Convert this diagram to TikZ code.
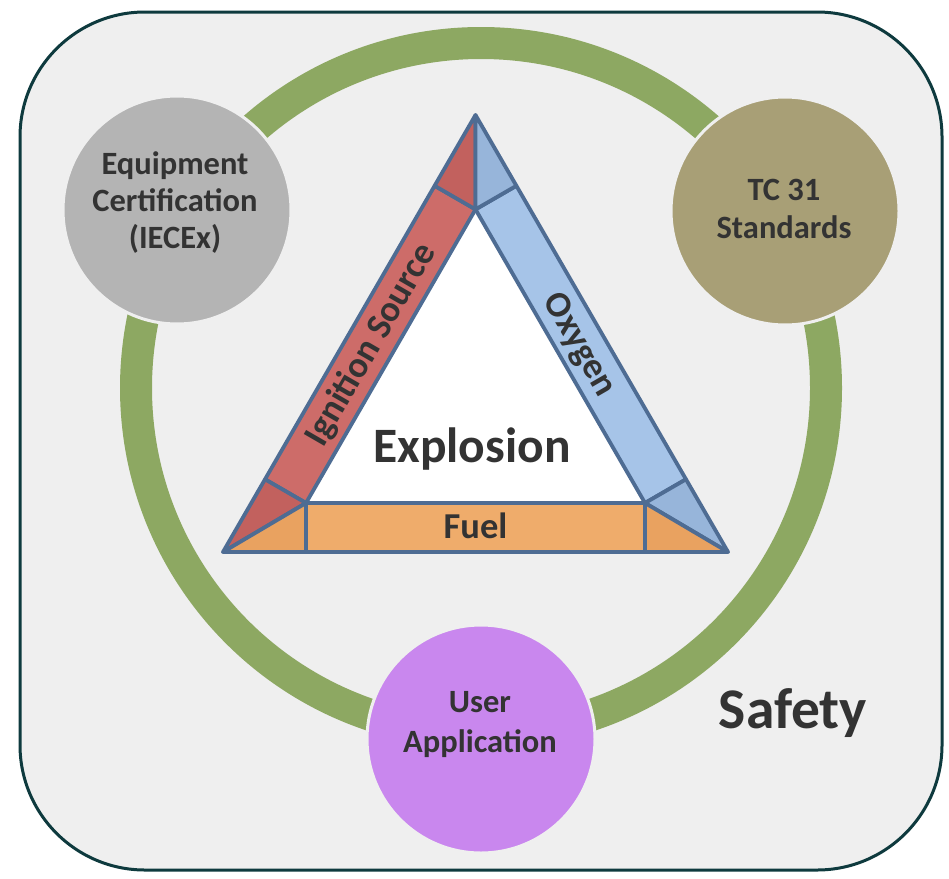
\documentclass[tikz,border=0pt]{standalone}
\usepackage{fontspec}
\setmainfont{Carlito}
\usetikzlibrary{calc}

\definecolor{panelbg}{HTML}{EFEFEF}
\definecolor{panelrim}{HTML}{0E3A3E}
\definecolor{ringgreen}{HTML}{8DA862}
\definecolor{equipgray}{HTML}{B4B4B4}
\definecolor{tckhaki}{HTML}{A89F76}
\definecolor{userpurple}{HTML}{C987EE}
\definecolor{ink}{HTML}{333333}
\definecolor{edgeblue}{HTML}{4E6C93}
\definecolor{redband}{HTML}{CD6C69}
\definecolor{redcorner}{HTML}{C2615E}
\definecolor{blueband}{HTML}{A6C4E8}
\definecolor{bluecorner}{HTML}{97B5DA}
\definecolor{orangeband}{HTML}{EFAC6B}
\definecolor{orangecorner}{HTML}{E9A260}

\tikzset{
  panel/.style={fill=panelbg, draw=panelrim, line width=3pt, rounded corners=125pt},
  ringline/.style={draw=ringgreen, line width=32pt},
  disc/.style={circle, minimum size=228pt, inner sep=0pt, draw=panelbg, line width=3pt},
  piece/.style={draw=edgeblue, line width=3.8pt, line join=round},
  disctext/.style={anchor=base, inner sep=0pt, text=ink, font=\fontsize{32.5}{38}\selectfont\bfseries},
  bandlabel/.style={anchor=center, inner sep=0pt, text=ink, text height=22pt, text depth=0pt,
                    font=\fontsize{36.5}{40}\selectfont\bfseries},
  bigtext/.style={anchor=base, inner sep=0pt, text=ink},
}

\begin{document}
\begin{tikzpicture}[x=1pt,y=-1pt]
\useasboundingbox (0,0) rectangle (949,878);
\fill[white] (0,0) rectangle (949,878);

% rounded panel
\draw[panel] (20,12) rectangle (942,870);

% green ring linking the three discs
\coordinate (hub) at (481,388);
\draw[ringline] (hub) circle[radius=345pt];

% discs on the ring
\node[disc, fill=equipgray]  (equip) at (177,210) {};
\node[disc, fill=tckhaki]    (tc)    at (785,211) {};
\node[disc, fill=userpurple] (user)  at (481,739) {};

\node[disctext] (eq1) at (175,174) {Equipment};
\node[disctext] (eq2) at (175,211) {Certification};
\node[disctext] (eq3) at (175,248) {(IECEx)};
\node[disctext] (tc1) at (784,200) {TC 31};
\node[disctext] (tc2) at (784,238) {Standards};
\node[disctext] (us1) at (480,712) {User};
\node[disctext] (us2) at (480,752) {Application};

% fire triangle: outer and inner vertices
\coordinate (A) at (475.5,115);
\coordinate (B) at (223,552);
\coordinate (C) at (728,552);
\coordinate (a) at (475.5,209.4);
\coordinate (b) at (306,503);
\coordinate (c) at (645,503);
% feet of the perpendiculars from the inner vertices
\coordinate (aL) at ($(A)!(a)!(B)$);
\coordinate (aR) at ($(A)!(a)!(C)$);
\coordinate (bL) at ($(A)!(b)!(B)$);
\coordinate (bB) at ($(B)!(b)!(C)$);
\coordinate (cR) at ($(A)!(c)!(C)$);
\coordinate (cB) at ($(B)!(c)!(C)$);

\fill[white] (a) -- (b) -- (c) -- cycle;

% bands
\filldraw[piece, fill=redband]    (bL) -- (aL) -- (a) -- (b) -- cycle;
\filldraw[piece, fill=blueband]   (aR) -- (cR) -- (c) -- (a) -- cycle;
\filldraw[piece, fill=orangeband] (b) -- (c) -- (cB) -- (bB) -- cycle;
% corners
\filldraw[piece, fill=redcorner]    (A) -- (aL) -- (a) -- cycle;
\filldraw[piece, fill=bluecorner]   (A) -- (a) -- (aR) -- cycle;
\filldraw[piece, fill=redcorner]    (B) -- (bL) -- (b) -- cycle;
\filldraw[piece, fill=orangecorner] (B) -- (b) -- (bB) -- cycle;
\filldraw[piece, fill=bluecorner]   (C) -- (cR) -- (c) -- cycle;
\filldraw[piece, fill=orangecorner] (C) -- (c) -- (cB) -- cycle;

% band labels
\node[bandlabel, rotate=60]  (ignition) at ($(aL)!0.5!(b)$) {Ignition Source};
\node[bandlabel, rotate=-60] (oxygen)   at ($(aR)!0.5!(c)$) {Oxygen};
\node[bandlabel]             (fuel)     at ($(b)!0.5!(cB)$) {Fuel};

\node[bigtext, font=\fontsize{49.5}{50}\selectfont\bfseries] (explosion) at (472,462) {Explosion};
\node[bigtext, font=\fontsize{57.5}{58}\selectfont\bfseries] (safety) at (793,728) {Safety};
\end{tikzpicture}
\end{document}
